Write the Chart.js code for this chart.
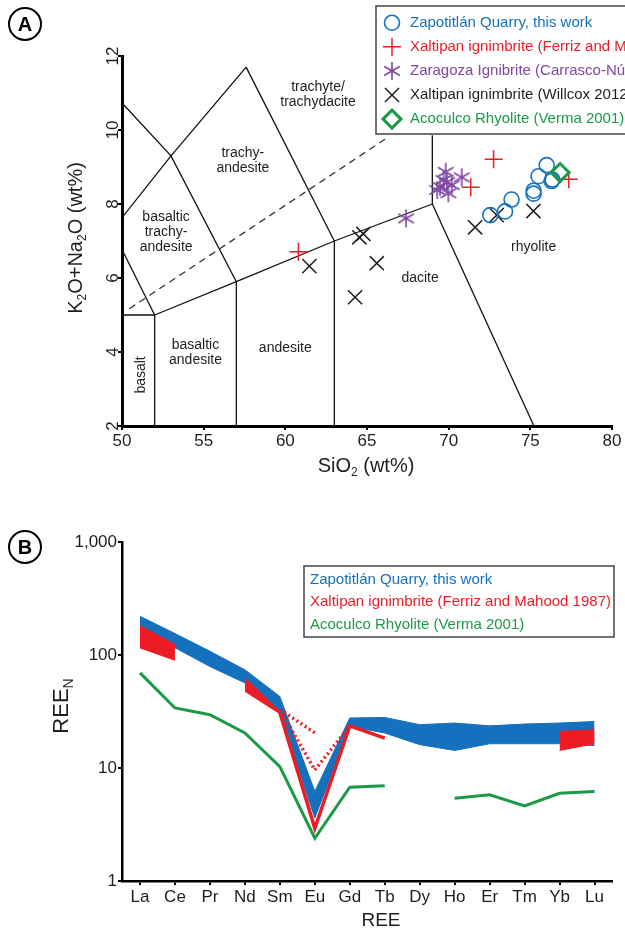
<!DOCTYPE html>
<html>
<head>
<meta charset="utf-8">
<title>TAS / REE</title>
<script src="https://cdn.jsdelivr.net/npm/chart.js"></script>
<style>
    body { margin: 0; background: #fff; }
    #wrap { position: relative; width: 625px; height: 932px; overflow: hidden; }
    canvas { position: absolute; left: 0; }
    #tasChart { top: 0; }
    #reeChart { top: 480px; }
</style>
</head>
<body>
<div id="wrap">
    <canvas id="tasChart" width="625" height="480"></canvas>
    <canvas id="reeChart" width="625" height="452"></canvas>
</div>
<script>
// ---------- panel A : SiO2 vs K2O+Na2O (wt%) ----------
const zapSiO2 = [76.0, 75.5, 76.35, 76.3, 75.2, 75.2, 73.85, 73.45, 72.55];
const zapAlk  = [9.05, 8.75, 8.66, 8.62, 8.36, 8.28, 8.12, 7.8, 7.7];

const ferrizSiO2 = [72.75, 71.35, 77.35, 60.8];
const ferrizAlk  = [9.21, 8.45, 8.67, 6.71];

const zaragozaSiO2 = [69.82, 70.8, 69.47, 70.19, 69.98, 69.68, 69.9, 69.3, 67.39];
const zaragozaAlk  = [8.87, 8.72, 8.47, 8.51, 8.29, 8.65, 8.59, 8.38, 7.61];

const willcoxSiO2 = [61.47, 64.53, 64.78, 65.6, 64.27, 71.62, 72.94, 75.19];
const willcoxAlk  = [6.32, 7.1, 7.19, 6.4, 5.48, 7.37, 7.7, 7.81];

const vermaSiO2 = [76.82];
const vermaAlk  = [8.85];

// TAS field boundaries (x = SiO2, y = total alkali)
const tasLines = [
    [[50, 5], [52, 5]],
    [[52, 2], [52, 5]],
    [[52, 5], [57, 5.9], [63, 7], [69, 8]],
    [[57, 2], [57, 5.9]],
    [[63, 2], [63, 7]],
    [[69, 8], [75.22, 2]],
    [[69, 8], [69, 9.86]],
    [[50, 6.77], [52, 5]],
    [[50, 7.63], [53, 9.3], [57.6, 11.7]],
    [[50, 10.73], [53, 9.3], [57, 5.9]],
    [[57.6, 11.7], [63, 7]]
];
const tasDashed = [[50.45, 5.17], [66.1, 9.75]];

const tasFields = [
    { text: ['trachyte/', 'trachydacite'], x: 62.0, y: 10.96 },
    { text: ['trachy-', 'andesite'], x: 57.4, y: 9.16 },
    { text: ['basaltic', 'trachy-', 'andesite'], x: 52.7, y: 7.24 },
    { text: ['basaltic', 'andesite'], x: 54.5, y: 3.97 },
    { text: ['andesite'], x: 60.0, y: 4.1 },
    { text: ['dacite'], x: 68.25, y: 6.0 },
    { text: ['rhyolite'], x: 75.2, y: 6.83 }
];

// ---------- panel B : chondrite normalised REE ----------
const ree = ['La', 'Ce', 'Pr', 'Nd', 'Sm', 'Eu', 'Gd', 'Tb', 'Dy', 'Ho', 'Er', 'Tm', 'Yb', 'Lu'];
const zapHigh = [220, 155, 108, 74, 43, 6.2, 27.7, 28.0, 24.2, 25.0, 23.6, 24.5, 25.0, 25.8];
const zapLow  = [168, 116, 79, 56.6, 30.8, 3.6, 23.3, 20.4, 16.1, 14.3, 16.4, 16.4, 16.4, 15.8];

const ferrizHighA = [182, 124, null, null, null, null, null, null, null, null, null, null, null, null];
const ferrizLowA  = [115.6, 89.8, null, null, null, null, null, null, null, null, null, null, null, null];
const ferrizHighB = [null, null, null, 63, 31.7, null, null, null, null, null, null, null, null, null];
const ferrizLowB  = [null, null, null, 47.7, 30.2, null, null, null, null, null, null, null, null, null];
const ferrizHighC = [null, null, null, null, null, null, null, null, null, null, null, null, 21.1, 21.8];
const ferrizLowC  = [null, null, null, null, null, null, null, null, null, null, null, null, 14.3, 16.4];
const ferrizLine  = [null, null, null, null, 31, 2.93, 23.6, 18.4, null, null, null, null, null, null];
const ferrizDot1  = [null, null, null, null, 33, 20.5, null, null, null, null, null, null, null, null];
const ferrizDot2  = [null, null, null, null, 33, 9.6, 23.6, null, null, null, null, null, null, null];

const vermaRee = [69.4, 34, 29.6, 20.4, 10.3, 2.39, 6.77, 6.95, null, 5.41, 5.79, 4.62, 5.98, 6.2];

const blue = '#1571bd';
const red = '#ed1c24';
const green = '#1b9a47';
const purple = '#7d47a3';
const dark = '#1e1e1e';
const FONT = 'Arial, "Liberation Sans", Helvetica, sans-serif';

function pts(xs, ys) {
    return xs.map((x, i) => ({ x: x, y: ys[i] }));
}

function reePts(vals) {
    return vals.map((v, i) => ({ x: i, y: v }));
}

function asterisk(color, r) {
    const c = document.createElement('canvas');
    c.width = c.height = 2 * r + 4;
    const g = c.getContext('2d');
    const m = r + 2;
    g.strokeStyle = color;
    g.lineWidth = 1.6;
    g.beginPath();
    [90, 30, 150].forEach(a => {
        const t = a * Math.PI / 180;
        g.moveTo(m - r * Math.cos(t), m - r * Math.sin(t));
        g.lineTo(m + r * Math.cos(t), m + r * Math.sin(t));
    });
    g.stroke();
    return c;
}
const starImg = asterisk(purple, 9);

// text with subscripts, parts = [[text, isSub], ...]
function drawRich(ctx, parts, x, y, size, angle) {
    const sub = Math.round(size * 0.62);
    ctx.save();
    ctx.translate(x, y);
    ctx.rotate(angle || 0);
    ctx.fillStyle = dark;
    ctx.textBaseline = 'middle';
    ctx.textAlign = 'left';
    let total = 0;
    parts.forEach(p => {
        ctx.font = (p[1] ? sub : size) + 'px ' + FONT;
        total += ctx.measureText(p[0]).width;
    });
    let cx = -total / 2;
    parts.forEach(p => {
        ctx.font = (p[1] ? sub : size) + 'px ' + FONT;
        ctx.fillText(p[0], cx, p[1] ? size * 0.32 : 0);
        cx += ctx.measureText(p[0]).width;
    });
    ctx.restore();
}

function circledLetter(ctx, letter, x, y) {
    ctx.save();
    ctx.beginPath();
    ctx.arc(x, y, 16, 0, Math.PI * 2);
    ctx.lineWidth = 2;
    ctx.strokeStyle = '#000';
    ctx.stroke();
    ctx.font = 'bold 20px ' + FONT;
    ctx.fillStyle = '#000';
    ctx.textAlign = 'center';
    ctx.textBaseline = 'middle';
    ctx.fillText(letter, x, y + 1);
    ctx.restore();
}

function marker(ctx, style, color, radius, width, x, y) {
    ctx.save();
    ctx.strokeStyle = color;
    ctx.fillStyle = 'rgba(0,0,0,0)';
    ctx.lineWidth = width;
    Chart.helpers.drawPoint(ctx, { pointStyle: style, radius: radius, borderWidth: width, rotation: 0 }, x, y);
    ctx.restore();
}

// ---------- chart A ----------
const tasDatasets = [
    { data: pts(vermaSiO2, vermaAlk), pointStyle: 'rectRot', pointRadius: 9, borderWidth: 3,
      borderColor: green, backgroundColor: 'rgba(0,0,0,0)' },
    { data: pts(zapSiO2, zapAlk), pointStyle: 'circle', pointRadius: 7.5, borderWidth: 1.6,
      borderColor: blue, backgroundColor: 'rgba(0,0,0,0)' },
    { data: pts(ferrizSiO2, ferrizAlk), pointStyle: 'cross', pointRadius: 9, borderWidth: 1.5,
      borderColor: red, backgroundColor: red },
    { data: pts(zaragozaSiO2, zaragozaAlk), pointStyle: starImg, pointRadius: 9,
      borderColor: purple, backgroundColor: purple },
    { data: pts(willcoxSiO2, willcoxAlk), pointStyle: 'crossRot', pointRadius: 10, borderWidth: 1.5,
      borderColor: dark, backgroundColor: dark },
    { data: tasDashed.map(p => ({ x: p[0], y: p[1] })), showLine: true, pointRadius: 0,
      borderColor: '#333', borderWidth: 1.3, borderDash: [7, 5] }
];
tasLines.forEach(line => {
    tasDatasets.push({
        data: line.map(p => ({ x: p[0], y: p[1] })),
        showLine: true, pointRadius: 0, borderColor: '#111', borderWidth: 1.3
    });
});

const tasLegend = [
    { label: 'Zapotitlán Quarry, this work', color: blue, style: 'circle', r: 7.5, w: 1.6 },
    { label: 'Xaltipan ignimbrite (Ferriz and Mahood 1987)', color: red, style: 'cross', r: 9, w: 1.5 },
    { label: 'Zaragoza Ignibrite (Carrasco-Núñez et al. 2012)', color: purple, style: starImg, r: 9, w: 1.5 },
    { label: 'Xaltipan ignimbrite (Willcox 2012)', color: dark, style: 'crossRot', r: 10, w: 1.5 },
    { label: 'Acoculco Rhyolite (Verma 2001)', color: green, style: 'rectRot', r: 9, w: 3 }
];

const tasDecor = {
    id: 'tasDecor',
    afterDatasetsDraw(chart) {
        const ctx = chart.ctx;
        const xs = chart.scales.x, ys = chart.scales.y;
        ctx.save();
        ctx.fillStyle = dark;
        ctx.font = '14px ' + FONT;
        ctx.textAlign = 'center';
        ctx.textBaseline = 'middle';
        tasFields.forEach(f => {
            const px = xs.getPixelForValue(f.x), py = ys.getPixelForValue(f.y);
            const n = f.text.length;
            f.text.forEach((t, i) => ctx.fillText(t, px, py + (i - (n - 1) / 2) * 15));
        });
        // basalt, rotated
        ctx.translate(xs.getPixelForValue(51.2), ys.getPixelForValue(3.38));
        ctx.rotate(-Math.PI / 2);
        ctx.fillText('basalt', 0, 0);
        ctx.restore();
    },
    afterDraw(chart) {
        const ctx = chart.ctx;
        // legend box
        ctx.save();
        ctx.fillStyle = '#fff';
        ctx.fillRect(376, 6, 260, 128);
        ctx.strokeStyle = '#444';
        ctx.lineWidth = 1.5;
        ctx.strokeRect(376, 6, 260, 128);
        ctx.font = '15px ' + FONT;
        ctx.textBaseline = 'middle';
        ctx.textAlign = 'left';
        tasLegend.forEach((it, i) => {
            const y = 22.7 + i * 24.1;
            marker(ctx, it.style, it.color, it.r, it.w, 392, y);
            ctx.fillStyle = it.color;
            ctx.fillText(it.label, 410, y);
        });
        ctx.restore();
        drawRich(ctx, [['K', 0], ['2', 1], ['O+Na', 0], ['2', 1], ['O (wt%)', 0]], 76, 238, 20, -Math.PI / 2);
        drawRich(ctx, [['SiO', 0], ['2', 1], [' (wt%)', 0]], 366, 466, 20, 0);
        circledLetter(ctx, 'A', 25, 24);
    }
};

new Chart(document.getElementById('tasChart'), {
    type: 'scatter',
    data: { datasets: tasDatasets },
    options: {
        responsive: false,
        animation: false,
        devicePixelRatio: 1,
        layout: { padding: { left: 0, right: 13, top: 56, bottom: 0 } },
        plugins: { legend: { display: false }, tooltip: { enabled: false } },
        scales: {
            x: {
                type: 'linear', min: 50, max: 80, bounds: 'data',
                ticks: { stepSize: 5, color: dark, font: { size: 17, family: FONT }, padding: 1, maxRotation: 0 },
                grid: { drawOnChartArea: false, drawTicks: true, tickLength: 4, color: '#000', lineWidth: 2 },
                border: { display: true, color: '#000', width: 3 },
                afterFit: s => { s.height = 54; }
            },
            y: {
                type: 'linear', min: 2, max: 12, bounds: 'data',
                ticks: { stepSize: 2, color: dark, font: { size: 17, family: FONT }, padding: -5,
                         minRotation: 90, maxRotation: 90, crossAlign: 'center' },
                grid: { drawOnChartArea: false, drawTicks: true, tickLength: 4, color: '#000', lineWidth: 2 },
                border: { display: true, color: '#000', width: 3 },
                afterFit: s => { s.width = 122; }
            }
        }
    },
    plugins: [tasDecor]
});

// ---------- chart B ----------
function band(high, low, color) {
    return [
        { data: reePts(high), fill: '+1', backgroundColor: color, borderColor: color, borderWidth: 1,
          pointRadius: 0, spanGaps: false },
        { data: reePts(low), fill: false, borderColor: color, borderWidth: 1, pointRadius: 0, spanGaps: false }
    ];
}

const reeDatasets = [
    { data: reePts(vermaRee), borderColor: green, borderWidth: 3, pointRadius: 0, fill: false, spanGaps: false },
    { data: reePts(ferrizDot1), borderColor: red, borderWidth: 3.5, borderDash: [2, 3], pointRadius: 0, fill: false },
    { data: reePts(ferrizDot2), borderColor: red, borderWidth: 3.5, borderDash: [2, 3], pointRadius: 0, fill: false },
    { data: reePts(ferrizLine), borderColor: red, borderWidth: 3.5, pointRadius: 0, fill: false },
    ...band(ferrizHighA, ferrizLowA, red),
    ...band(ferrizHighB, ferrizLowB, red),
    ...band(ferrizHighC, ferrizLowC, red),
    ...band(zapHigh, zapLow, blue)
];

const reeLegend = [
    { label: 'Zapotitlán Quarry, this work', color: blue },
    { label: 'Xaltipan ignimbrite (Ferriz and Mahood 1987)', color: red },
    { label: 'Acoculco Rhyolite (Verma 2001)', color: green }
];

const reeDecor = {
    id: 'reeDecor',
    afterDraw(chart) {
        const ctx = chart.ctx;
        ctx.save();
        ctx.fillStyle = '#fff';
        ctx.fillRect(304, 86, 310, 71);
        ctx.strokeStyle = '#444';
        ctx.lineWidth = 1.5;
        ctx.strokeRect(304, 86, 310, 71);
        ctx.font = '15px ' + FONT;
        ctx.textBaseline = 'middle';
        ctx.textAlign = 'left';
        reeLegend.forEach((it, i) => {
            ctx.fillStyle = it.color;
            ctx.fillText(it.label, 310, 100 + i * 22.2);
        });
        ctx.restore();
        drawRich(ctx, [['REE', 0], ['N', 1]], 62, 226, 22, -Math.PI / 2);
        drawRich(ctx, [['REE', 0]], 381, 441, 19, 0);
        circledLetter(ctx, 'B', 25, 67);
    }
};

new Chart(document.getElementById('reeChart'), {
    type: 'line',
    data: { datasets: reeDatasets },
    options: {
        responsive: false,
        animation: false,
        devicePixelRatio: 1,
        layout: { padding: { left: 0, right: 13, top: 62, bottom: 0 } },
        plugins: { legend: { display: false }, tooltip: { enabled: false }, filler: { propagate: false } },
        scales: {
            x: {
                type: 'linear', min: -0.515, max: 13.5, bounds: 'data',
                afterBuildTicks: s => { s.ticks = ree.map((_, i) => ({ value: i })); },
                ticks: { callback: v => ree[v], color: dark, font: { size: 17, family: FONT }, padding: 2,
                         maxRotation: 0, autoSkip: false },
                grid: { drawOnChartArea: false, drawTicks: true, tickLength: 4, color: '#000', lineWidth: 2 },
                border: { display: true, color: '#000', width: 2.5 },
                afterFit: s => { s.height = 51; }
            },
            y: {
                type: 'logarithmic', min: 1, max: 1000,
                afterBuildTicks: s => { s.ticks = [1, 10, 100, 1000].map(v => ({ value: v })); },
                ticks: { callback: v => v.toLocaleString('en-US'), color: dark, font: { size: 17, family: FONT }, padding: 1 },
                grid: { drawOnChartArea: false, drawTicks: true, tickLength: 4, color: '#000', lineWidth: 2 },
                border: { display: true, color: '#000', width: 2.5 },
                afterFit: s => { s.width = 122; }
            }
        }
    },
    plugins: [reeDecor]
});
</script>
</body>
</html>
